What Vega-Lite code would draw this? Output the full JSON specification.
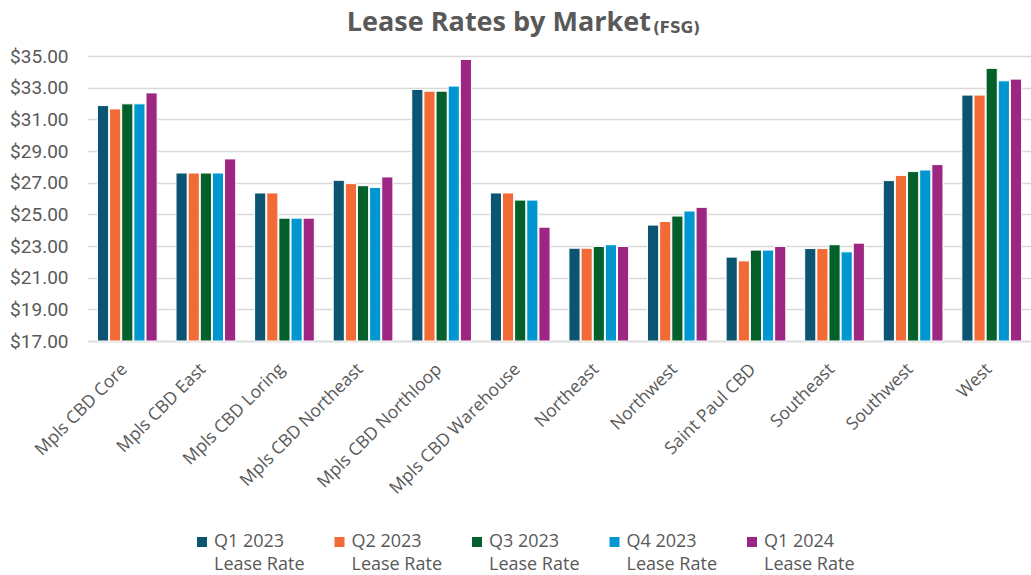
{
  "$schema": "https://vega.github.io/schema/vega-lite/v6.json",
  "width": 943,
  "height": 285,
  "autosize": {"type": "none"},
  "padding": {"left": 88, "top": 56, "right": 0, "bottom": 234},
  "background": "white",
  "title": {
    "text": "Lease Rates by Market\u00a0\u00a0\u00a0\u00a0\u00a0\u00a0\u00a0\u200b",
    "subtitle": "(FSG)",
    "anchor": "end",
    "frame": "group",
    "dx": -331,
    "offset": 10,
    "font": "Open Sans",
    "fontSize": 27,
    "fontWeight": "bold",
    "color": "#595959",
    "subtitleFont": "DejaVu Sans",
    "subtitleFontSize": 15,
    "subtitleFontWeight": "bold",
    "subtitleColor": "#595959",
    "subtitlePadding": -16
  },
  "data": {
    "values": [
      {"market": "Mpls CBD Core", "series": "Q1 2023 Lease Rate", "rate": 31.87},
      {"market": "Mpls CBD Core", "series": "Q2 2023 Lease Rate", "rate": 31.66},
      {"market": "Mpls CBD Core", "series": "Q3 2023 Lease Rate", "rate": 31.98},
      {"market": "Mpls CBD Core", "series": "Q4 2023 Lease Rate", "rate": 31.98},
      {"market": "Mpls CBD Core", "series": "Q1 2024 Lease Rate", "rate": 32.67},
      {"market": "Mpls CBD East", "series": "Q1 2023 Lease Rate", "rate": 27.61},
      {"market": "Mpls CBD East", "series": "Q2 2023 Lease Rate", "rate": 27.61},
      {"market": "Mpls CBD East", "series": "Q3 2023 Lease Rate", "rate": 27.61},
      {"market": "Mpls CBD East", "series": "Q4 2023 Lease Rate", "rate": 27.61},
      {"market": "Mpls CBD East", "series": "Q1 2024 Lease Rate", "rate": 28.5},
      {"market": "Mpls CBD Loring", "series": "Q1 2023 Lease Rate", "rate": 26.35},
      {"market": "Mpls CBD Loring", "series": "Q2 2023 Lease Rate", "rate": 26.35},
      {"market": "Mpls CBD Loring", "series": "Q3 2023 Lease Rate", "rate": 24.76},
      {"market": "Mpls CBD Loring", "series": "Q4 2023 Lease Rate", "rate": 24.76},
      {"market": "Mpls CBD Loring", "series": "Q1 2024 Lease Rate", "rate": 24.76},
      {"market": "Mpls CBD Northeast", "series": "Q1 2023 Lease Rate", "rate": 27.15},
      {"market": "Mpls CBD Northeast", "series": "Q2 2023 Lease Rate", "rate": 26.94},
      {"market": "Mpls CBD Northeast", "series": "Q3 2023 Lease Rate", "rate": 26.81},
      {"market": "Mpls CBD Northeast", "series": "Q4 2023 Lease Rate", "rate": 26.7},
      {"market": "Mpls CBD Northeast", "series": "Q1 2024 Lease Rate", "rate": 27.36},
      {"market": "Mpls CBD Northloop", "series": "Q1 2023 Lease Rate", "rate": 32.89},
      {"market": "Mpls CBD Northloop", "series": "Q2 2023 Lease Rate", "rate": 32.78},
      {"market": "Mpls CBD Northloop", "series": "Q3 2023 Lease Rate", "rate": 32.78},
      {"market": "Mpls CBD Northloop", "series": "Q4 2023 Lease Rate", "rate": 33.1},
      {"market": "Mpls CBD Northloop", "series": "Q1 2024 Lease Rate", "rate": 34.78},
      {"market": "Mpls CBD Warehouse", "series": "Q1 2023 Lease Rate", "rate": 26.35},
      {"market": "Mpls CBD Warehouse", "series": "Q2 2023 Lease Rate", "rate": 26.35},
      {"market": "Mpls CBD Warehouse", "series": "Q3 2023 Lease Rate", "rate": 25.9},
      {"market": "Mpls CBD Warehouse", "series": "Q4 2023 Lease Rate", "rate": 25.9},
      {"market": "Mpls CBD Warehouse", "series": "Q1 2024 Lease Rate", "rate": 24.19},
      {"market": "Northeast", "series": "Q1 2023 Lease Rate", "rate": 22.86},
      {"market": "Northeast", "series": "Q2 2023 Lease Rate", "rate": 22.86},
      {"market": "Northeast", "series": "Q3 2023 Lease Rate", "rate": 22.97},
      {"market": "Northeast", "series": "Q4 2023 Lease Rate", "rate": 23.08},
      {"market": "Northeast", "series": "Q1 2024 Lease Rate", "rate": 22.97},
      {"market": "Northwest", "series": "Q1 2023 Lease Rate", "rate": 24.32},
      {"market": "Northwest", "series": "Q2 2023 Lease Rate", "rate": 24.55},
      {"market": "Northwest", "series": "Q3 2023 Lease Rate", "rate": 24.89},
      {"market": "Northwest", "series": "Q4 2023 Lease Rate", "rate": 25.21},
      {"market": "Northwest", "series": "Q1 2024 Lease Rate", "rate": 25.44},
      {"market": "Saint Paul CBD", "series": "Q1 2023 Lease Rate", "rate": 22.3},
      {"market": "Saint Paul CBD", "series": "Q2 2023 Lease Rate", "rate": 22.06},
      {"market": "Saint Paul CBD", "series": "Q3 2023 Lease Rate", "rate": 22.74},
      {"market": "Saint Paul CBD", "series": "Q4 2023 Lease Rate", "rate": 22.74},
      {"market": "Saint Paul CBD", "series": "Q1 2024 Lease Rate", "rate": 22.97},
      {"market": "Southeast", "series": "Q1 2023 Lease Rate", "rate": 22.84},
      {"market": "Southeast", "series": "Q2 2023 Lease Rate", "rate": 22.84},
      {"market": "Southeast", "series": "Q3 2023 Lease Rate", "rate": 23.08},
      {"market": "Southeast", "series": "Q4 2023 Lease Rate", "rate": 22.63},
      {"market": "Southeast", "series": "Q1 2024 Lease Rate", "rate": 23.18},
      {"market": "Southwest", "series": "Q1 2023 Lease Rate", "rate": 27.13},
      {"market": "Southwest", "series": "Q2 2023 Lease Rate", "rate": 27.46},
      {"market": "Southwest", "series": "Q3 2023 Lease Rate", "rate": 27.7},
      {"market": "Southwest", "series": "Q4 2023 Lease Rate", "rate": 27.8},
      {"market": "Southwest", "series": "Q1 2024 Lease Rate", "rate": 28.14},
      {"market": "West", "series": "Q1 2023 Lease Rate", "rate": 32.53},
      {"market": "West", "series": "Q2 2023 Lease Rate", "rate": 32.53},
      {"market": "West", "series": "Q3 2023 Lease Rate", "rate": 34.22},
      {"market": "West", "series": "Q4 2023 Lease Rate", "rate": 33.43},
      {"market": "West", "series": "Q1 2024 Lease Rate", "rate": 33.54}
    ]
  },
  "mark": {"type": "bar", "stroke": "white", "strokeWidth": 1},
  "encoding": {
    "x": {
      "field": "market",
      "type": "nominal",
      "sort": null,
      "scale": {"paddingInner": 0.24, "paddingOuter": 0.12},
      "axis": {
        "title": null,
        "labelAngle": -45,
        "labelFont": "Open Sans",
        "labelFontSize": 17.5,
        "labelColor": "#595959",
        "labelPadding": 19,
        "labelOffset": -9,
        "ticks": false,
        "domain": true,
        "domainColor": "#D9D9D9",
        "domainWidth": 1.5,
        "labelLimit": 250
      }
    },
    "xOffset": {
      "field": "series",
      "type": "nominal",
      "sort": null,
      "scale": {"paddingInner": 0.08}
    },
    "y": {
      "field": "rate",
      "type": "quantitative",
      "scale": {"domain": [17, 35], "nice": false, "zero": false, "clamp": true},
      "axis": {
        "title": null,
        "values": [17, 19, 21, 23, 25, 27, 29, 31, 33, 35],
        "format": "$,.2f",
        "labelFont": "Roboto",
        "labelFontSize": 19,
        "labelColor": "#595959",
        "labelPadding": 20,
        "ticks": false,
        "domain": false,
        "grid": true,
        "gridColor": "#D9D9D9",
        "gridWidth": 1.5
      }
    },
    "color": {
      "field": "series",
      "type": "nominal",
      "sort": null,
      "scale": {
        "domain": ["Q1 2023 Lease Rate", "Q2 2023 Lease Rate", "Q3 2023 Lease Rate", "Q4 2023 Lease Rate", "Q1 2024 Lease Rate"],
        "range": ["#0B5573", "#F26A36", "#04602B", "#0096D0", "#9D2682"]
      },
      "legend": {
        "title": null,
        "orient": "none",
        "legendX": 105,
        "legendY": 477,
        "direction": "horizontal",
        "columns": 5,
        "symbolType": "square",
        "symbolSize": 100,
        "symbolStrokeWidth": 0,
        "labelFont": "Open Sans",
        "labelFontSize": 18,
        "labelColor": "#595959",
        "labelExpr": "[slice(datum.label, 0, 7), 'Lease Rate']",
        "labelOffset": 3,
        "columnPadding": 25.5
      }
    }
  },
  "config": {"view": {"stroke": null}, "style": {"guide-label": {"lineHeight": 23}}}
}
